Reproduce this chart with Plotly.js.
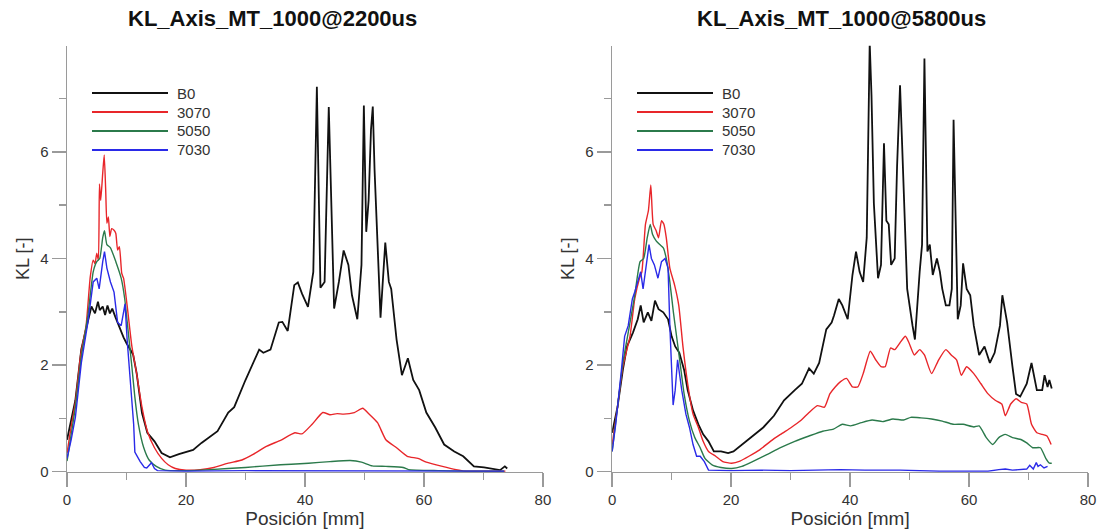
<!DOCTYPE html>
<html>
<head>
<meta charset="utf-8">
<script src="https://cdn.plot.ly/plotly-3.0.1.min.js"></script>
<style>html,body{margin:0;padding:0;background:#fff;}#chart{width:1099px;height:532px;}</style>
</head>
<body>
<div id="chart"></div>
<script>
// ---------- Labels ----------
const seriesNames = ["B0", "3070", "5050", "7030"];
const titles = ["KL_Axis_MT_1000@2200us", "KL_Axis_MT_1000@5800us"];
const xTickVals = [0, 20, 40, 60, 80];
const yTickVals = [0, 2, 4, 6];

// ---------- Data: KL_Axis_MT_1000@2200us ----------
const pos_B0_2200 = [0,0.7,1.4,2.4,3.0,3.6,4.1,4.7,5.2,5.5,6.0,6.4,6.8,7.2,7.6,8.1,8.5,8.9,9.5,10.0,10.6,11.1,11.7,12.6,13.5,14.7,15.9,17.3,18.8,21.2,22.6,25.3,27.1,28.1,30.0,32.3,33.0,34.2,35.6,36.2,37.1,38.2,38.8,39.5,40.5,41.4,42.0,42.6,43.3,44.0,44.9,45.7,46.5,47.3,47.9,48.8,49.5,49.9,50.3,50.7,51.1,51.4,51.7,52.2,52.7,53.5,54.1,54.5,55.4,56.3,57.3,58.2,59.2,60.4,61.9,63.4,65.1,66.6,68.4,70.1,71.9,72.8,73.6,74.0];
const kl_B0_2200 = [0.60,0.95,1.34,2.30,2.60,2.91,3.10,2.97,3.19,3.03,3.10,2.94,3.12,2.97,3.06,2.91,2.80,2.66,2.52,2.41,2.30,2.20,1.85,1.10,0.73,0.57,0.35,0.27,0.33,0.41,0.54,0.76,1.11,1.21,1.72,2.29,2.23,2.29,2.80,2.81,2.64,3.50,3.55,3.34,3.09,3.75,7.22,3.45,3.56,6.84,3.06,3.56,4.15,3.88,3.31,2.86,3.88,6.87,4.50,5.09,6.42,6.85,5.66,4.39,2.89,4.30,3.56,3.43,2.48,1.81,2.13,1.72,1.53,1.11,0.83,0.51,0.38,0.29,0.10,0.08,0.05,0.03,0.10,0.06];

const pos_3070_2200 = [0,0.7,1.4,2.3,3.2,3.9,4.4,4.7,5.0,5.27,5.45,5.66,6.0,6.25,6.5,6.7,6.95,7.2,7.5,7.9,8.2,8.5,8.8,9.2,9.5,10.1,10.9,11.7,12.6,13.5,14.7,15.9,17.0,18.2,20.0,22.4,24.7,27.1,29.4,31.2,33.6,35.9,38.3,39.5,41.2,43.0,44.2,45.4,46.5,48.3,49.7,50.7,52.2,53.6,55.4,57.2,59.0,60.4,63.1,65.4,66.9,70.1,73.7];
const kl_3070_2200 = [0.35,0.85,1.30,2.20,2.74,3.65,3.97,3.90,4.10,3.97,5.40,5.09,5.60,5.94,5.28,4.66,4.78,4.41,4.56,4.53,4.47,4.16,4.22,3.72,3.63,3.12,2.35,1.84,1.21,0.76,0.45,0.25,0.13,0.06,0.03,0.04,0.08,0.16,0.22,0.32,0.48,0.59,0.73,0.71,0.89,1.11,1.07,1.09,1.08,1.11,1.19,1.09,0.92,0.60,0.45,0.29,0.25,0.18,0.10,0.04,0.01,0.01,0.01];

const pos_5050_2200 = [0,0.7,1.4,2.4,3.5,4.4,5.0,5.5,6.0,6.3,6.7,7.3,8.2,9.1,9.7,10.3,10.9,11.4,12.0,12.9,13.8,15.0,16.5,19.4,24.1,30.0,35.9,37.7,40.6,44.2,47.6,49.5,51.3,53.6,56.5,57.4,62.4,67.2,73.5];
const kl_5050_2200 = [0.20,0.70,1.21,2.16,2.93,3.75,3.94,4.00,4.39,4.52,4.26,4.20,3.94,3.63,3.24,2.61,1.97,1.40,0.89,0.45,0.22,0.10,0.03,0.02,0.04,0.08,0.13,0.14,0.16,0.19,0.21,0.18,0.11,0.10,0.08,0.04,0.02,0.01,0.01];

const pos_7030_2200 = [0,0.7,1.4,2.4,3.5,4.4,5.0,5.4,6.0,6.3,6.7,7.3,7.9,8.5,9.1,9.75,10.1,10.7,11.2,11.4,12.3,13.0,13.4,14.2,14.7,15.2,20,30,40,50,60,73.5];
const kl_7030_2200 = [0.25,0.60,1.02,2.04,2.80,3.56,3.63,3.43,3.94,4.13,3.82,3.56,3.37,2.80,2.74,3.15,2.48,1.53,0.89,0.37,0.19,0.08,0.07,0.17,0.06,0.02,0.01,0.02,0.02,0.02,0.01,0.01];

// ---------- Data: KL_Axis_MT_1000@5800us ----------
const pos_B0_5800 = [0,0.9,1.8,2.5,3.5,4.3,4.8,5.3,6.0,6.6,7.2,7.8,8.6,9.4,10.0,10.6,11.3,12.1,12.7,13.6,14.5,15.3,16.2,17.1,18.3,19.5,20.4,21.8,23.6,25.4,27.2,28.9,30.7,31.9,33.1,33.9,34.8,36.0,36.9,37.3,38.1,38.7,39.6,40.4,41.0,41.6,42.2,42.8,43.3,43.6,44.0,44.7,45.2,45.7,46.1,46.5,46.9,47.5,47.9,48.4,48.7,49.1,49.6,50.5,50.9,51.7,52.1,52.5,53.0,53.4,53.9,54.6,55.1,55.5,56.1,56.7,57.1,57.4,57.9,58.1,58.6,59.0,59.6,60.2,60.8,61.7,62.6,63.5,64.3,65.2,65.6,66.4,67.3,67.9,68.6,69.7,70.5,71.4,72.3,72.7,73.2,73.5,73.9];
const kl_B0_5800 = [0.73,1.21,1.91,2.35,2.61,2.86,3.12,2.80,2.99,2.83,3.21,3.05,2.99,2.86,2.54,2.35,2.23,1.91,1.53,1.15,0.89,0.70,0.57,0.38,0.38,0.35,0.38,0.51,0.67,0.83,1.05,1.34,1.53,1.65,1.94,1.84,2.04,2.67,2.80,2.93,3.24,3.12,2.86,3.69,4.13,3.75,3.56,4.39,8.05,7.06,5.03,3.63,3.88,6.16,4.71,4.64,3.88,4.00,5.73,7.25,6.30,5.03,3.43,2.74,2.48,3.75,4.26,7.75,4.13,4.26,3.69,4.00,3.75,3.43,3.12,3.12,3.43,6.60,3.75,2.86,3.12,3.91,3.43,3.31,2.74,2.19,2.35,2.04,2.23,2.74,3.31,2.80,1.97,1.46,1.41,1.65,2.04,1.53,1.53,1.81,1.59,1.72,1.56];

const pos_3070_5800 = [0,0.9,1.8,3.0,3.8,4.6,5.0,5.6,6.1,6.5,6.9,7.4,7.8,8.3,8.7,9.1,9.7,10.5,11.2,11.9,12.7,13.6,14.5,15.3,16.2,17.4,18.6,20.1,21.5,23.0,24.8,26.6,28.3,30.1,31.6,33.1,34.5,35.7,36.6,37.5,38.4,39.4,40.4,41.3,42.2,43.4,44.3,45.2,45.9,46.8,47.5,48.4,49.3,49.9,50.8,51.7,52.5,53.7,54.9,56.1,57.0,57.9,58.7,59.6,60.8,62.0,63.2,64.4,65.5,66.1,67.0,67.9,68.8,69.7,70.5,71.4,72.3,73.1,73.8];
const kl_3070_5800 = [0.51,1.21,1.97,2.54,3.24,3.63,3.75,4.64,4.90,5.38,4.64,4.52,4.39,4.71,4.64,4.39,3.82,3.50,3.12,2.35,1.65,1.08,0.83,0.57,0.38,0.29,0.19,0.16,0.20,0.29,0.41,0.57,0.70,0.83,0.95,1.11,1.24,1.21,1.46,1.59,1.69,1.75,1.59,1.59,1.84,2.26,2.10,1.97,1.97,2.32,2.29,2.42,2.54,2.42,2.19,2.29,2.19,1.84,2.10,2.29,2.19,2.10,1.81,1.97,1.84,1.65,1.46,1.34,1.27,1.05,1.27,1.37,1.30,1.27,0.89,0.73,0.70,0.67,0.51];

const pos_5050_5800 = [0,0.9,1.8,2.8,3.8,4.7,5.3,5.9,6.4,6.8,7.4,8.0,8.6,9.1,9.7,10.3,10.9,11.5,12.1,13.0,13.9,14.8,15.6,16.8,18.3,20.1,21.8,23.6,26.0,28.3,30.7,33.1,35.4,37.2,38.7,40.1,41.9,43.7,45.5,47.2,49.0,50.2,51.9,53.7,55.5,57.3,59.0,60.8,61.7,62.9,64.0,65.0,66.1,67.3,68.8,69.7,70.7,72.0,72.9,73.5,73.9];
const kl_5050_5800 = [0.38,1.21,2.04,2.67,3.31,3.94,4.00,4.39,4.64,4.45,4.33,4.26,4.20,4.00,3.56,2.99,2.48,1.97,1.46,0.95,0.64,0.45,0.25,0.13,0.08,0.06,0.10,0.19,0.32,0.45,0.57,0.67,0.76,0.80,0.89,0.86,0.92,0.97,0.94,0.99,0.97,1.02,1.01,0.99,0.95,0.89,0.89,0.84,0.86,0.64,0.51,0.64,0.70,0.64,0.60,0.54,0.45,0.45,0.25,0.16,0.16];

const pos_7030_5800 = [0,0.6,1.5,2.1,2.7,3.4,3.8,4.4,4.8,5.2,5.8,6.2,6.6,7.1,7.7,8.3,8.9,9.4,9.7,10.25,10.6,11.0,11.7,12.4,13.0,13.6,14.2,14.8,15.5,16.2,20,25,30,38.4,42.5,48.4,55,63.2,65.0,66.1,67.3,69.7,70.2,70.8,71.3,71.6,72.0,72.6,73.2];
const kl_7030_5800 = [0.38,0.89,1.84,2.54,2.74,3.24,3.37,3.63,3.75,3.43,4.00,4.26,4.00,3.88,3.63,3.94,4.00,3.82,2.74,1.25,1.53,2.10,1.53,1.08,0.83,0.51,0.29,0.29,0.19,0.03,0.02,0.03,0.02,0.04,0.03,0.03,0.01,0.01,0.04,0.05,0.03,0.05,0.12,0.05,0.17,0.10,0.13,0.07,0.10];

// ---------- Styling ----------
const W = 1099, H = 532;
const colors = ["#111111", "#e8262a", "#2b7a4b", "#2a2ae8"];
const widths = [1.8, 1.4, 1.4, 1.4];
const shapesLine = ["linear", "spline", "spline", "linear"];
const FONT = "Liberation Sans, Arial, Helvetica, sans-serif";
const px = v => v / W;
const py = v => 1 - v / H;

const leftX = [pos_B0_2200, pos_3070_2200, pos_5050_2200, pos_7030_2200];
const leftY = [kl_B0_2200, kl_3070_2200, kl_5050_2200, kl_7030_2200];
const rightX = [pos_B0_5800, pos_3070_5800, pos_5050_5800, pos_7030_5800];
const rightY = [kl_B0_5800, kl_3070_5800, kl_5050_5800, kl_7030_5800];

const traces = [];
seriesNames.forEach((n, i) => {
  traces.push({x: leftX[i], y: leftY[i], name: n, type: "scatter", mode: "lines",
    line: {color: colors[i], width: widths[i], shape: shapesLine[i], smoothing: 0.5},
    xaxis: "x", yaxis: "y", showlegend: false});
});
seriesNames.forEach((n, i) => {
  traces.push({x: rightX[i], y: rightY[i], name: n, type: "scatter", mode: "lines",
    line: {color: colors[i], width: widths[i], shape: shapesLine[i], smoothing: 0.5},
    xaxis: "x2", yaxis: "y2", showlegend: false});
});

function xAxis(domain, anchor) {
  return {
    domain: domain, anchor: anchor, range: [0, 80], tickvals: xTickVals,
    ticks: "outside", ticklen: 14, tickwidth: 1.5, tickcolor: "#9a9a9a",
    showline: true, linecolor: "#9a9a9a", linewidth: 1.5,
    showgrid: false, zeroline: false,
    minor: {dtick: 10, ticks: "outside", ticklen: 7, tickwidth: 1.5, tickcolor: "#9a9a9a", showgrid: false},
    tickfont: {family: FONT, size: 15, color: "#333"},
    title: {text: "Posición [mm]", font: {family: FONT, size: 19, color: "#333"}, standoff: 4}
  };
}
function yAxis(domain, anchor) {
  return {
    domain: domain, anchor: anchor, range: [0, 7.99], tickvals: yTickVals,
    ticks: "outside", ticklen: 14, tickwidth: 1.5, tickcolor: "#9a9a9a",
    showline: true, linecolor: "#9a9a9a", linewidth: 1.5,
    showgrid: false, zeroline: false,
    minor: {dtick: 1, ticks: "outside", ticklen: 7, tickwidth: 1.5, tickcolor: "#9a9a9a", showgrid: false},
    tickfont: {family: FONT, size: 15, color: "#333"},
    title: {text: "KL [-]", font: {family: FONT, size: 18, color: "#333"}, standoff: 6}
  };
}

// Hand-drawn legend boxes (line samples + labels), one per panel
const legendRows = [93, 112, 131, 150];
const legendStarts = [92, 637];
const shapes = [], annotations = [];
legendStarts.forEach(x0 => {
  seriesNames.forEach((n, i) => {
    shapes.push({type: "line", xref: "paper", yref: "paper",
      x0: px(x0), x1: px(x0 + 76), y0: py(legendRows[i]), y1: py(legendRows[i]),
      line: {color: colors[i], width: widths[i] + 0.4}});
    annotations.push({text: n, xref: "paper", yref: "paper", x: px(x0 + 83), y: py(legendRows[i]),
      xanchor: "left", yanchor: "middle", showarrow: false,
      font: {family: FONT, size: 15, color: "#333"}});
  });
});
annotations.push(
  {text: titles[0], xref: "paper", yref: "paper", x: px(272), y: py(18),
   xanchor: "center", yanchor: "middle", showarrow: false,
   font: {family: FONT, size: 22, color: "#111", weight: "bold"}},
  {text: titles[1], xref: "paper", yref: "paper", x: px(841), y: py(18),
   xanchor: "center", yanchor: "middle", showarrow: false,
   font: {family: FONT, size: 22, color: "#111", weight: "bold"}}
);

const yDom = [0.1133, 0.914];
const layout = {
  width: W, height: H,
  margin: {l: 0, r: 0, t: 0, b: 0},
  paper_bgcolor: "#fff", plot_bgcolor: "#fff",
  showlegend: false,
  xaxis: xAxis([0.061, 0.494], "y"),
  yaxis: yAxis(yDom, "x"),
  xaxis2: xAxis([0.557, 0.990], "y2"),
  yaxis2: yAxis(yDom, "x2"),
  shapes: shapes,
  annotations: annotations
};

Plotly.newPlot("chart", traces, layout, {staticPlot: true, displayModeBar: false});
</script>
</body>
</html>
